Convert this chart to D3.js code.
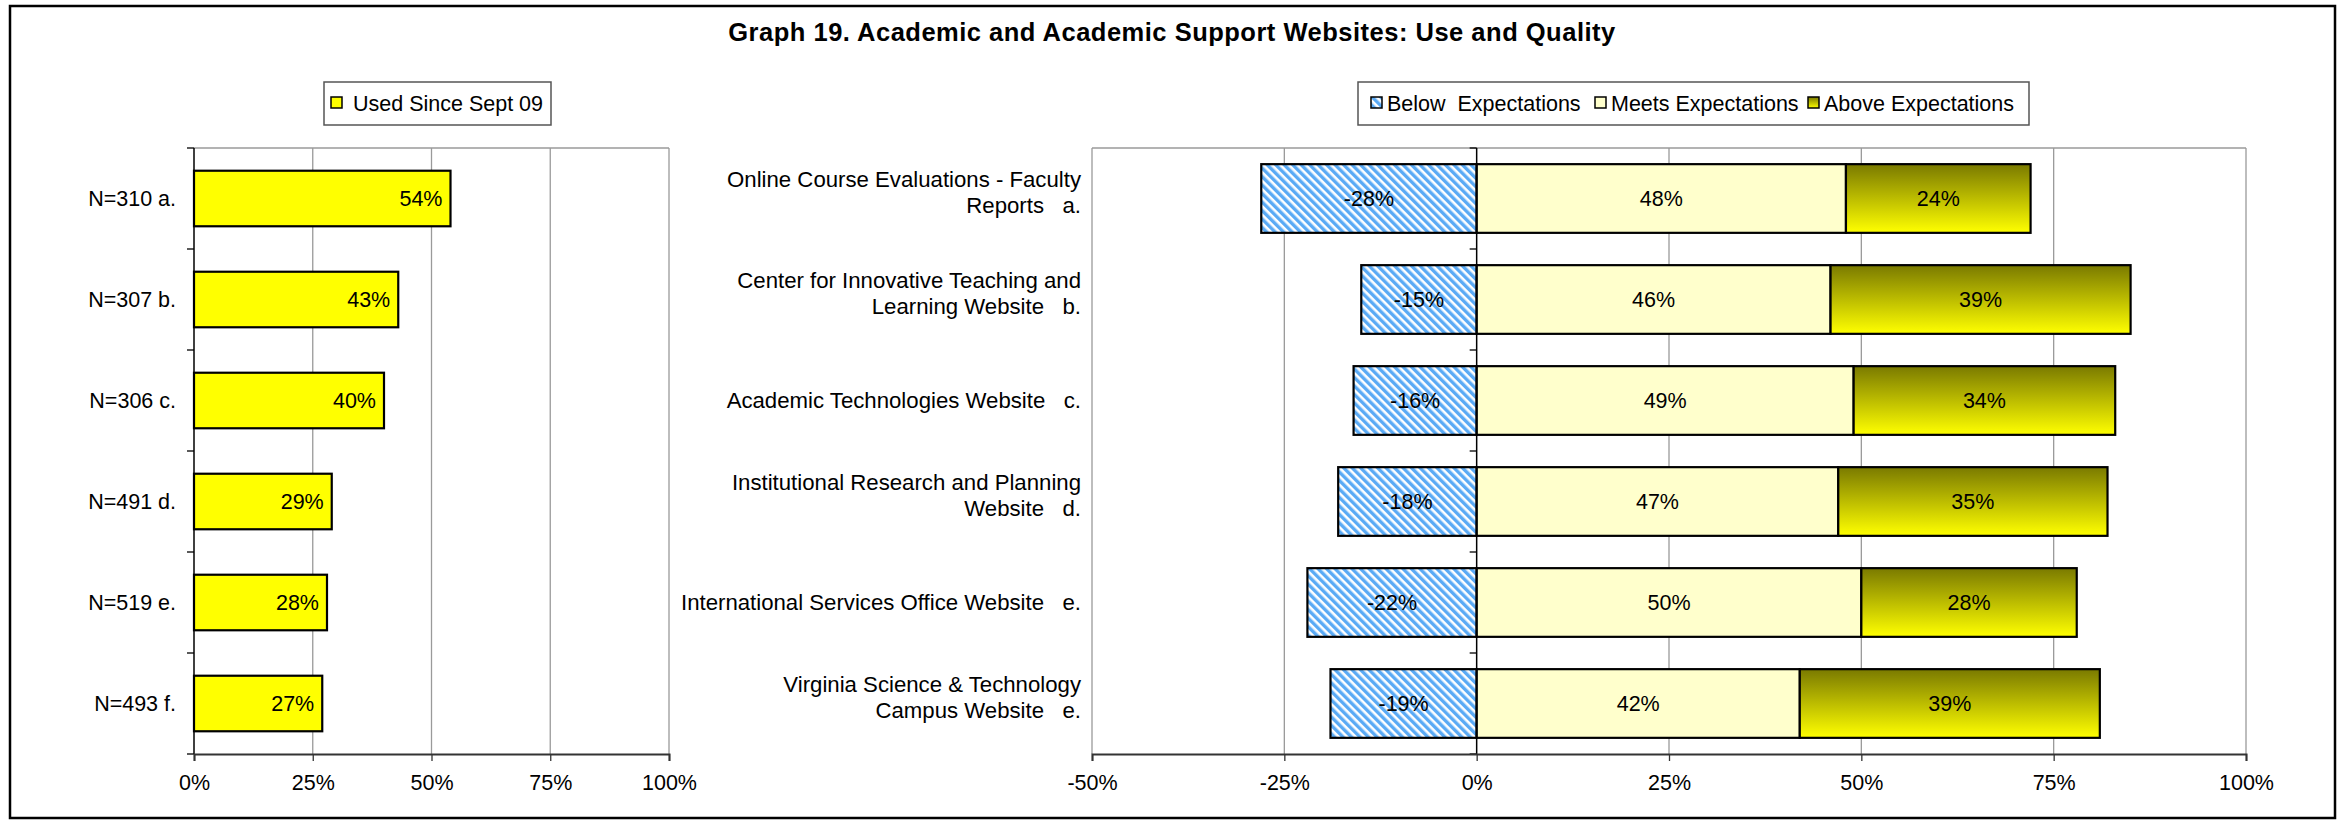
<!DOCTYPE html>
<html>
<head>
<meta charset="utf-8">
<script src="https://cdn.jsdelivr.net/npm/d3@7/dist/d3.min.js"></script>
<style>
  html, body { margin: 0; padding: 0; background: #fff; }
  svg { display: block; }
  text { font-family: "Liberation Sans", Arial, sans-serif; fill: #000; }
</style>
</head>
<body>
<svg id="chart" width="2342" height="822"></svg>
<script>
// ---------------- DATA ----------------
const title = "Graph 19. Academic and Academic Support Websites: Use and Quality";

const leftCategories = ["N=310 a.", "N=307 b.", "N=306 c.", "N=491 d.", "N=519 e.", "N=493 f."];
const usedSinceSept09 = [54, 43, 40, 29, 28, 27];
const leftSeriesName = "Used Since Sept 09";
const leftTicks = [0, 25, 50, 75, 100];

const rightCategories = [
  ["Online Course Evaluations - Faculty", "Reports   a."],
  ["Center for Innovative Teaching and", "Learning Website   b."],
  ["Academic Technologies Website   c."],
  ["Institutional Research and Planning", "Website   d."],
  ["International Services Office Website   e."],
  ["Virginia Science & Technology", "Campus Website   e."]
];
const belowExpectations = [-28, -15, -16, -18, -22, -19];
const meetsExpectations = [48, 46, 49, 47, 50, 42];
const aboveExpectations = [24, 39, 34, 35, 28, 39];
const rightSeriesNames = ["Below  Expectations", "Meets Expectations", "Above Expectations"];
const rightTicks = [-50, -25, 0, 25, 50, 75, 100];

// ---------------- LAYOUT ----------------
const W = 2342, H = 822;
const FONT = 21.5;
const svg = d3.select("#chart");
const defs = svg.append("defs");

// hatch pattern (below)
const pat = defs.append("pattern")
  .attr("id", "hatch").attr("patternUnits", "userSpaceOnUse")
  .attr("width", 6).attr("height", 6)
  .attr("patternTransform", "rotate(-45)");
pat.append("rect").attr("width", 6).attr("height", 6).attr("fill", "#ffffff");
pat.append("rect").attr("width", 3.4).attr("height", 6).attr("fill", "#5aaaf5");

// gradient (above)
const grad = defs.append("linearGradient")
  .attr("id", "aboveGrad").attr("x1", 0).attr("y1", 0).attr("x2", 0).attr("y2", 1);
grad.append("stop").attr("offset", "0%").attr("stop-color", "#7a7a00");
grad.append("stop").attr("offset", "100%").attr("stop-color", "#ffff00");

// outer frame
svg.append("rect").attr("x", 10).attr("y", 6).attr("width", 2325).attr("height", 812)
  .attr("fill", "#fff").attr("stroke", "#000").attr("stroke-width", 2.5);

// title
svg.append("text").attr("x", 1172).attr("y", 41).attr("text-anchor", "middle")
  .attr("font-size", 25.5).attr("font-weight", "bold").attr("letter-spacing", 0.5)
  .text(title);

const plotTop = 148, plotBottom = 754;

// ================= LEFT CHART =================
const xL = d3.scaleLinear().domain([0, 100]).range([194, 669]);
const yL = d3.scaleBand().domain(leftCategories).range([plotTop, plotBottom])
  .paddingInner(0.45).paddingOuter(0.225);

const gL = svg.append("g");
gL.selectAll(".grid").data(leftTicks.filter(t => t > 0)).join("line")
  .attr("x1", d => xL(d)).attr("x2", d => xL(d))
  .attr("y1", plotTop).attr("y2", plotBottom)
  .attr("stroke", "#9a9a9a").attr("stroke-width", 1.3);
gL.append("line").attr("x1", xL(0)).attr("x2", xL(100)).attr("y1", plotTop).attr("y2", plotTop)
  .attr("stroke", "#9a9a9a").attr("stroke-width", 1.5);

gL.selectAll(".bar").data(usedSinceSept09).join("rect")
  .attr("x", xL(0))
  .attr("y", (d, i) => yL(leftCategories[i]))
  .attr("width", d => xL(d) - xL(0))
  .attr("height", yL.bandwidth())
  .attr("fill", "#ffff00").attr("stroke", "#000").attr("stroke-width", 2.2);
gL.selectAll(".val").data(usedSinceSept09).join("text")
  .attr("x", d => xL(d) - 8)
  .attr("y", (d, i) => yL(leftCategories[i]) + yL.bandwidth() / 2)
  .attr("dy", "0.36em").attr("text-anchor", "end").attr("font-size", FONT)
  .text(d => d + "%");

gL.selectAll(".cat").data(leftCategories).join("text")
  .attr("x", 176).attr("y", d => yL(d) + yL.bandwidth() / 2)
  .attr("dy", "0.36em").attr("text-anchor", "end").attr("font-size", FONT)
  .text(d => d);

const bandEdgesL = d3.range(leftCategories.length + 1).map(i => plotTop + i * (plotBottom - plotTop) / leftCategories.length);
gL.append("line").attr("x1", xL(0)).attr("x2", xL(0)).attr("y1", plotTop).attr("y2", plotBottom)
  .attr("stroke", "#000").attr("stroke-width", 1.5);
gL.selectAll(".ytick").data(bandEdgesL).join("line")
  .attr("x1", xL(0) - 7).attr("x2", xL(0)).attr("y1", d => d).attr("y2", d => d)
  .attr("stroke", "#000").attr("stroke-width", 1.3);

const axL = gL.append("g").attr("transform", `translate(0,${plotBottom})`)
  .call(d3.axisBottom(xL).tickValues(leftTicks).tickFormat(d => d + "%").tickSize(7).tickPadding(14));
axL.select(".domain").attr("stroke", "#333").attr("stroke-width", 2);
axL.selectAll(".tick line").attr("stroke", "#333").attr("stroke-width", 1.3);
axL.selectAll(".tick text").attr("font-size", FONT).attr("font-family", "Liberation Sans, Arial, sans-serif").attr("fill", "#000");

// left legend
const lgL = svg.append("g");
lgL.append("rect").attr("x", 324).attr("y", 82).attr("width", 227).attr("height", 43)
  .attr("fill", "#fff").attr("stroke", "#555").attr("stroke-width", 1.5);
lgL.append("rect").attr("x", 331).attr("y", 97).attr("width", 11).attr("height", 11)
  .attr("fill", "#ffff00").attr("stroke", "#000").attr("stroke-width", 1.5);
lgL.append("text").attr("x", 353).attr("y", 103.5).attr("dy", "0.36em").attr("font-size", FONT)
  .text(leftSeriesName);

// ================= RIGHT CHART =================
const xR = d3.scaleLinear().domain([-50, 100]).range([1092, 2246]);
const rightKeys = rightCategories.map((d, i) => "c" + i);
const yR = d3.scaleBand().domain(rightKeys).range([plotTop, plotBottom])
  .paddingInner(0.32).paddingOuter(0.16);

const gR = svg.append("g");
gR.selectAll(".grid").data(rightTicks.filter(t => t !== 0)).join("line")
  .attr("x1", d => xR(d)).attr("x2", d => xR(d))
  .attr("y1", plotTop).attr("y2", plotBottom)
  .attr("stroke", "#9a9a9a").attr("stroke-width", 1.3);
gR.append("line").attr("x1", xR(-50)).attr("x2", xR(100)).attr("y1", plotTop).attr("y2", plotTop)
  .attr("stroke", "#9a9a9a").attr("stroke-width", 1.5);

const rows = rightKeys.map((k, i) => ({
  key: k,
  segs: [
    { x0: belowExpectations[i], x1: 0, v: belowExpectations[i], fill: "url(#hatch)" },
    { x0: 0, x1: meetsExpectations[i], v: meetsExpectations[i], fill: "#ffffcc" },
    { x0: meetsExpectations[i], x1: meetsExpectations[i] + aboveExpectations[i], v: aboveExpectations[i], fill: "url(#aboveGrad)" }
  ]
}));

const rowG = gR.selectAll(".row").data(rows).join("g")
  .attr("transform", d => `translate(0,${yR(d.key)})`);
rowG.selectAll("rect").data(d => d.segs).join("rect")
  .attr("x", d => xR(Math.min(d.x0, d.x1)))
  .attr("width", d => Math.abs(xR(d.x1) - xR(d.x0)))
  .attr("y", 0).attr("height", yR.bandwidth())
  .attr("fill", d => d.fill).attr("stroke", "#000").attr("stroke-width", 2.2);
rowG.selectAll("text").data(d => d.segs).join("text")
  .attr("x", d => (xR(d.x0) + xR(d.x1)) / 2)
  .attr("y", yR.bandwidth() / 2).attr("dy", "0.36em")
  .attr("text-anchor", "middle").attr("font-size", FONT)
  .text(d => d.v + "%");

gR.selectAll(".cat").data(rightCategories).join("text")
  .attr("text-anchor", "end").attr("font-size", 22.2)
  .attr("xml:space", "preserve").style("white-space", "pre")
  .each(function (lines, i) {
    const cy = yR(rightKeys[i]) + yR.bandwidth() / 2;
    const offs = lines.length === 1 ? [0] : [-19.5, 6.5];
    d3.select(this).selectAll("tspan").data(lines).join("tspan")
      .attr("x", 1081).attr("y", (l, j) => cy + offs[j]).attr("dy", "0.36em")
      .text(l => l);
  });

const bandEdgesR = d3.range(rightKeys.length + 1).map(i => plotTop + i * (plotBottom - plotTop) / rightKeys.length);
gR.append("line").attr("x1", xR(0)).attr("x2", xR(0)).attr("y1", plotTop).attr("y2", plotBottom)
  .attr("stroke", "#000").attr("stroke-width", 1.5);
gR.selectAll(".ytick").data(bandEdgesR).join("line")
  .attr("x1", xR(0) - 7).attr("x2", xR(0)).attr("y1", d => d).attr("y2", d => d)
  .attr("stroke", "#000").attr("stroke-width", 1.3);

const axR = gR.append("g").attr("transform", `translate(0,${plotBottom})`)
  .call(d3.axisBottom(xR).tickValues(rightTicks).tickFormat(d => d + "%").tickSize(7).tickPadding(14));
axR.select(".domain").attr("stroke", "#333").attr("stroke-width", 2);
axR.selectAll(".tick line").attr("stroke", "#333").attr("stroke-width", 1.3);
axR.selectAll(".tick text").attr("font-size", FONT).attr("font-family", "Liberation Sans, Arial, sans-serif").attr("fill", "#000");

// right legend
const lgR = svg.append("g");
lgR.append("rect").attr("x", 1358).attr("y", 82).attr("width", 671).attr("height", 43)
  .attr("fill", "#fff").attr("stroke", "#555").attr("stroke-width", 1.5);
const legFills = ["url(#hatch)", "#ffffcc", "url(#aboveGrad)"];
const legSwX = [1371, 1595, 1808];
rightSeriesNames.forEach((name, i) => {
  lgR.append("rect").attr("x", legSwX[i]).attr("y", 97).attr("width", 11).attr("height", 11)
    .attr("fill", legFills[i]).attr("stroke", "#000").attr("stroke-width", 1.5);
  lgR.append("text").attr("x", legSwX[i] + 16).attr("y", 103.5).attr("dy", "0.36em")
    .attr("font-size", FONT).attr("xml:space", "preserve").style("white-space", "pre")
    .text(name);
});
</script>
</body>
</html>
